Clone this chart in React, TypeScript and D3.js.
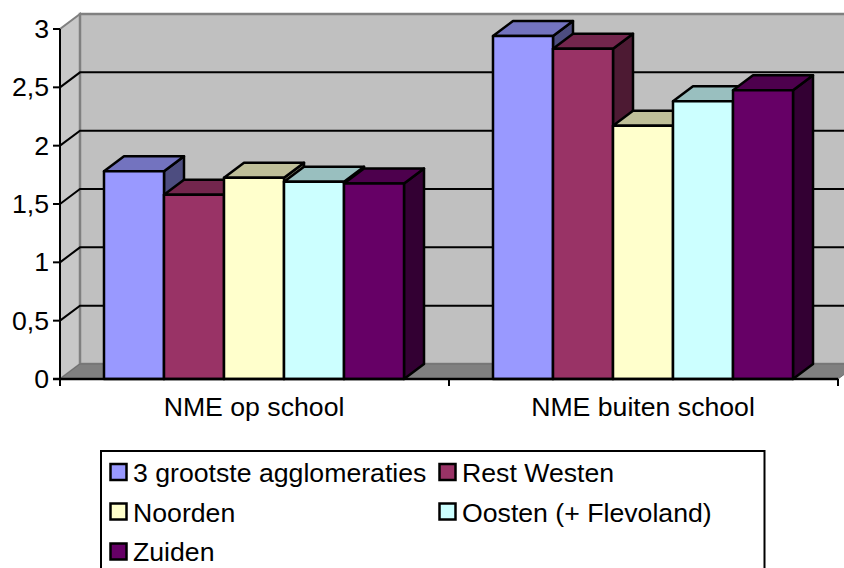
import React from "react";
import * as d3 from "d3";

const categories = ["NME op school", "NME buiten school"];
const seriesNames = ["3 grootste agglomeraties", "Rest Westen", "Noorden", "Oosten (+ Flevoland)", "Zuiden"];
const agglomeraties = [1.78, 2.94];
const restWesten = [1.58, 2.83];
const noorden = [1.725, 2.17];
const oosten = [1.69, 2.38];
const zuiden = [1.675, 2.475];
const seriesValues = [agglomeraties, restWesten, noorden, oosten, zuiden];
const frontColors = ["#9999FF", "#993366", "#FFFFCC", "#CCFFFF", "#660066"];
const topColors = ["#7373BF", "#73264D", "#BFBF99", "#99BFBF", "#4D004D"];
const sideColors = ["#4D4D80", "#4D1A33", "#808066", "#668080", "#330033"];
const yTicks = [0, 0.5, 1, 1.5, 2, 2.5, 3];
const tickLabels = ["0", "0,5", "1", "1,5", "2", "2,5", "3"];

const FONT = "'Liberation Sans', Arial, sans-serif";
const FS = 26.67;
const DX = 20;
const DY = -15;

export default function App() {
  const y = d3.scaleLinear().domain([0, 3]).range([379, 29]);
  const x0 = d3.scaleBand<string>().domain(categories).range([60, 838]);
  const x1 = d3.scaleBand<number>().domain(d3.range(seriesNames.length)).range([0, x0.bandwidth()]).paddingOuter(0.7415).paddingInner(0);
  const y0 = y(0);
  const y3 = y(3);
  const right = 60 + 389 * 2;
  const poly = (pts: [number, number][]) => pts.map((p) => p.join(",")).join(" ");

  const legendRows = [
    [0, 1],
    [2, 3],
    [4],
  ];
  const legendX = [110.5, 439.5];
  const legendY = [464, 503.5, 543.5];
  const legendBase = [481.5, 521.5, 560.5];

  return (
    <svg width={844} height={568} style={{ position: "absolute", left: 0, top: 0, background: "#fff" }} fontFamily={FONT}>
      {/* walls */}
      <polygon points={poly([[60, y0], [60 + DX, y0 + DY], [60 + DX, y3 + DY], [60, y3]])} fill="#C8C8C8" stroke="#808080" strokeWidth={2} />
      <rect x={60 + DX} y={y3 + DY} width={right - 60} height={y0 - y3} fill="#C0C0C0" stroke="#808080" strokeWidth={2.5} />
      <polygon points={poly([[60, y0], [60 + DX, y0 + DY], [right + DX, y0 + DY], [right, y0]])} fill="#808080" stroke="#6e6e6e" strokeWidth={1} />
      {/* gridlines */}
      {yTicks.filter((t) => t > 0 && t < 3).map((t) => (
        <polyline key={t} points={poly([[60, y(t)], [60 + DX, y(t) + DY], [right + DX, y(t) + DY]])} fill="none" stroke="#000" strokeWidth={2} />
      ))}
      {/* bars */}
      {categories.map((c, ci) =>
        seriesNames.map((s, si) => {
          const bx = (x0(c) as number) + (x1(si) as number) - 0.5;
          const bw = x1.bandwidth();
          const by = y(seriesValues[si][ci]);
          return (
            <g key={c + s} stroke="#000" strokeWidth={2.5} strokeLinejoin="round">
              <polygon points={poly([[bx + bw, by], [bx + bw + DX, by + DY], [bx + bw + DX, y0 + DY], [bx + bw, y0]])} fill={sideColors[si]} />
              <polygon points={poly([[bx, by], [bx + DX, by + DY], [bx + bw + DX, by + DY], [bx + bw, by]])} fill={topColors[si]} />
              <rect x={bx} y={by} width={bw} height={y0 - by} fill={frontColors[si]} />
            </g>
          );
        })
      )}
      {/* axes */}
      <line x1={60} x2={60} y1={y3} y2={y0 + 7} stroke="#000" strokeWidth={2} />
      <line x1={53} x2={right} y1={y0} y2={y0} stroke="#000" strokeWidth={2.5} />
      {yTicks.map((t, i) => (
        <g key={t}>
          <line x1={53} x2={60} y1={y(t)} y2={y(t)} stroke="#000" strokeWidth={2} />
          <text x={49} y={y(t) + 9} textAnchor="end" fontSize={FS} fill="#000">{tickLabels[i]}</text>
        </g>
      ))}
      {[60, 60 + 389, 60 + 778].map((tx) => (
        <line key={tx} x1={tx} x2={tx} y1={y0} y2={y0 + 7} stroke="#000" strokeWidth={2} />
      ))}
      {categories.map((c) => (
        <text key={c} x={(x0(c) as number) + x0.bandwidth() / 2 - 0.5} y={416} textAnchor="middle" fontSize={FS} fill="#000">{c}</text>
      ))}
      {/* legend */}
      <rect x={101} y={451} width={663.5} height={125} fill="#fff" stroke="#000" strokeWidth={2} />
      {legendRows.map((row, ri) =>
        row.map((si, ci) => (
          <g key={si}>
            <rect x={legendX[ci]} y={legendY[ri]} width={16} height={16} fill={frontColors[si]} stroke="#000" strokeWidth={2.5} />
            <text x={legendX[ci] + 22.5} y={legendBase[ri]} fontSize={FS} fill="#000">{seriesNames[si]}</text>
          </g>
        ))
      )}
    </svg>
  );
}
